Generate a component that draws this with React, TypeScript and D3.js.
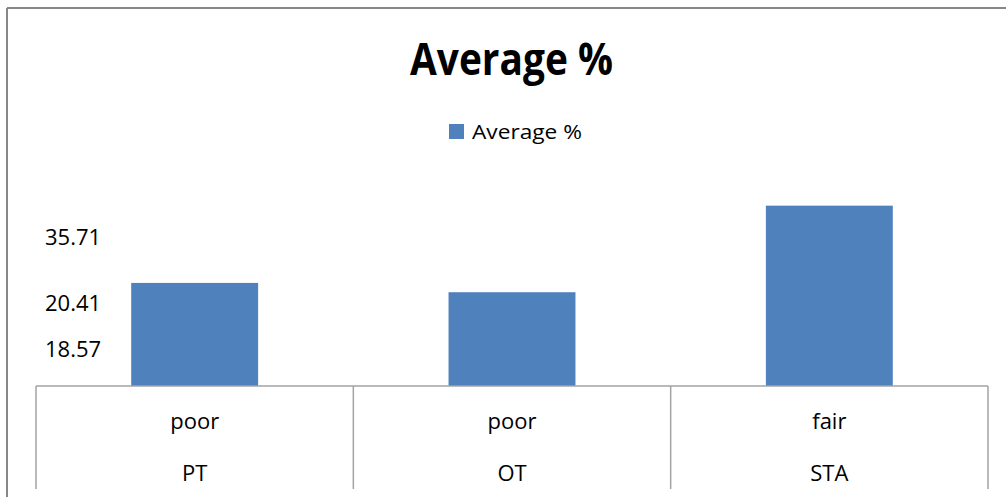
import React from "react";
import * as d3 from "d3";

const categories = ["PT", "OT", "STA"];
const ratings = ["poor", "poor", "fair"];
const values = [20.41, 18.57, 35.71];
const yTickLabels = ["35.71", "20.41", "18.57"];
const seriesName = "Average %";
const title = "Average %";

const W = 1006;
const H = 497;
const FONT = "'Open Sans', 'Noto Sans', sans-serif";
const BAR = "#4F81BD";
const GRID = "#a3a3a3";

// layout (not data)
const tableLeft = 36;
const tableRight = 988;
const baseY = 386;
const tableBottom = 489;
const labelBaselines = [245, 311, 357];

export default function App() {
  const x = d3.scaleBand<string>().domain(categories).range([tableLeft, tableRight]).padding(0);
  const y = d3.scaleLinear().domain([0, 40]).range([baseY, 184]);
  const barW = x.bandwidth() * 0.4;

  return (
    <div style={{ position: "absolute", left: 0, top: 0 }}>
      <svg width={W} height={H} style={{ display: "block", background: "#fff" }}>
        {/* outer chart border */}
        <line x1={7} y1={8} x2={W} y2={8} stroke="#878787" strokeWidth={2} />
        <line x1={7} y1={8} x2={7} y2={H} stroke="#878787" strokeWidth={2} />

        {/* title */}
        <text
          x={511.5}
          y={75}
          textAnchor="middle"
          fontFamily={FONT}
          fontWeight="bold"
          fontSize={44}
          textLength={203}
          lengthAdjust="spacingAndGlyphs"
          fill="#000"
        >
          {title}
        </text>

        {/* legend */}
        <rect x={449} y={124} width={15} height={15} fill={BAR} />
        <text
          x={472}
          y={139}
          fontFamily={FONT}
          fontSize={20}
          textLength={110}
          lengthAdjust="spacingAndGlyphs"
          fill="#000"
        >
          {seriesName}
        </text>

        {/* bars */}
        {categories.map((c, i) => (
          <rect
            key={c}
            x={(x(c) as number) + x.bandwidth() / 2 - barW / 2}
            y={y(values[i])}
            width={barW}
            height={y(0) - y(values[i])}
            fill={BAR}
          />
        ))}

        {/* y labels */}
        {yTickLabels.map((t, i) => (
          <text key={t} x={45} y={labelBaselines[i]} fontFamily={FONT} fontSize={22} fill="#000">
            {t}
          </text>
        ))}

        {/* data table */}
        <line x1={tableLeft} y1={baseY} x2={tableRight} y2={baseY} stroke={GRID} strokeWidth={1.5} />
        {[...categories.map((c) => x(c) as number), tableRight].map((xx, i) => (
          <line key={i} x1={xx} y1={baseY} x2={xx} y2={tableBottom} stroke={GRID} strokeWidth={1.5} />
        ))}
        {categories.map((c, i) => {
          const cx = (x(c) as number) + x.bandwidth() / 2;
          return (
            <g key={c}>
              <text x={cx} y={429} textAnchor="middle" fontFamily={FONT} fontSize={22} fill="#000">
                {ratings[i]}
              </text>
              <text x={cx} y={481} textAnchor="middle" fontFamily={FONT} fontSize={22} fill="#000">
                {c}
              </text>
            </g>
          );
        })}
      </svg>
    </div>
  );
}
